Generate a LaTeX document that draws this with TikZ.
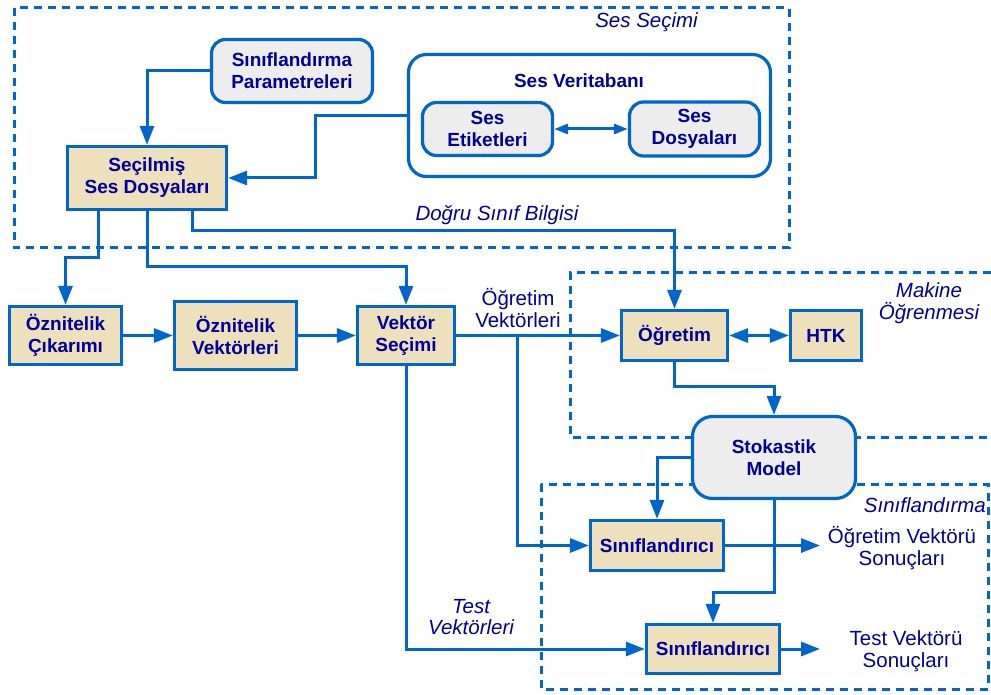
\documentclass[tikz,border=0pt]{standalone}
\usepackage{fontspec}
\setmainfont{Liberation Sans}
\usetikzlibrary{arrows.meta}
\definecolor{flowblue}{HTML}{0066CC}
\definecolor{inkblue}{HTML}{00009C}
\definecolor{boxtan}{HTML}{EEE0BA}
\definecolor{boxgray}{HTML}{EDEDED}

\begin{document}
\begin{tikzpicture}[x=1pt,y=-1pt,
  every node/.style={text=inkblue,align=center,inner sep=0pt},
  box/.style={draw=flowblue,line width=3.2pt,fill=boxtan,font=\fontsize{19}{22}\selectfont\bfseries},
  rbox/.style={box,fill=boxgray,rounded corners=14pt},
  lab/.style={font=\fontsize{20.5}{21.5}\selectfont},
  grp/.style={font=\fontsize{20.5}{21.5}\selectfont\itshape},
  zone/.style={draw=flowblue,line width=3pt,dash pattern=on 8pt off 6pt},
  arr/.style={draw=flowblue,line width=3pt,-{Triangle[length=19pt,width=14pt]}},
  dbl/.style={draw=flowblue,line width=3pt,{Triangle[length=19pt,width=14pt]}-{Triangle[length=19pt,width=14pt]}},
  sdbl/.style={draw=flowblue,line width=3pt,{Triangle[length=14pt,width=10pt]}-{Triangle[length=14pt,width=10pt]}}]
  \useasboundingbox (0,0) rectangle (991,695);

  % dashed zones
  \draw[zone] (14,8) rectangle (789,248);
  \draw[zone] (991,273) -- (570,273) -- (570,437) -- (991,437);
  \draw[zone] (541,484) rectangle (988,689);
  \node[grp,anchor=east] (zsel) at (698,22) {Ses Seçimi};
  \node[grp] (zml) at (929,303) {Makine\\Öğrenmesi};
  \node[grp,anchor=east] (zcls) at (986,505) {Sınıflandırma};

  % sound selection
  \node[rbox,minimum width=161,minimum height=63] (param) at (292,71) {Sınıflandırma\\Parametreleri};
  \node[box,minimum width=159,minimum height=63] (secilmis) at (147,178) {Seçilmiş\\Ses Dosyaları};
  \node[rbox,fill=white,rounded corners=18pt,minimum width=362,minimum height=122] (sesdb) at (589.5,115.5) {};
  \node[font=\fontsize{19}{22}\selectfont\bfseries] (dbtitle) at (579,81) {Ses Veritabanı};
  \node[rbox,minimum width=130,minimum height=53] (etiket) at (487.5,129) {Ses\\Etiketleri};
  \node[rbox,minimum width=130,minimum height=54] (dosya) at (694.5,129) {Ses\\Dosyaları};

  % feature chain
  \node[box,minimum width=112,minimum height=58] (cikarim) at (65.5,335.5) {Öznitelik\\Çıkarımı};
  \node[box,minimum width=122,minimum height=68] (oznvek) at (235.5,335.5) {Öznitelik\\Vektörleri};
  \node[box,minimum width=97,minimum height=58] (vsecim) at (406,335.5) {Vektör\\Seçimi};

  % training and classification
  \node[box,minimum width=106,minimum height=50] (ogretim) at (674.5,335.5) {Öğretim};
  \node[box,minimum width=71,minimum height=50] (htk) at (826,335.5) {HTK};
  \node[rbox,rounded corners=20pt,minimum width=163,minimum height=82] (stok) at (774,457.5) {Stokastik\\Model};
  \node[box,minimum width=133,minimum height=50] (sinif1) at (657,545.5) {Sınıflandırıcı};
  \node[box,minimum width=133,minimum height=49] (sinif2) at (713,649) {Sınıflandırıcı};

  % free labels
  \node[grp] (dogru) at (497,215) {Doğru Sınıf Bilgisi};
  \node[lab] (ogrvek) at (518,308) {Öğretim\\Vektörleri};
  \node[grp] (testvek) at (471,617) {Test\\Vektörleri};
  \node[lab] (ogrsonuc) at (902,548) {Öğretim Vektörü\\Sonuçları};
  \node[lab] (testsonuc) at (906,651) {Test Vektörü\\Sonuçları};

  % bends
  \coordinate (b1) at (517,335.5);
  \coordinate (s1) at (98,258);
  \coordinate (s2) at (147,267);
  \coordinate (s3) at (192,231);
  \coordinate (s4) at (674.5,386);
  \coordinate (s5) at (774,592);
  \coordinate (o1) at (820,545.5);
  \coordinate (o2) at (820,649);

  \draw[arr] (param.west) -| (secilmis.north);
  \draw[arr] (sesdb.west) -- ++(-91,0) |- (secilmis.east);
  \draw[sdbl] (etiket) -- (dosya);
  \draw[arr] ([xshift=-49pt]secilmis.south) -- (s1) -| (cikarim.north);
  \draw[arr] (secilmis.south) -- (s2) -| (vsecim.north);
  \draw[arr] ([xshift=45pt]secilmis.south) -- (s3) -| (ogretim.north);
  \draw[arr] (cikarim) -- (oznvek);
  \draw[arr] (oznvek) -- (vsecim);
  \draw[arr] (vsecim) -- (ogretim);
  \draw[arr] (b1) |- (sinif1.west);
  \draw[dbl] (ogretim) -- (htk);
  \draw[arr] (ogretim.south) -- (s4) -| (stok.north);
  \draw[arr] (stok.west) -| (sinif1.north);
  \draw[arr] (stok.south) -- (s5) -| (sinif2.north);
  \draw[arr] (vsecim.south) |- (sinif2.west);
  \draw[arr] (sinif1) -- (o1);
  \draw[arr] (sinif2) -- (o2);
\end{tikzpicture}
\end{document}
